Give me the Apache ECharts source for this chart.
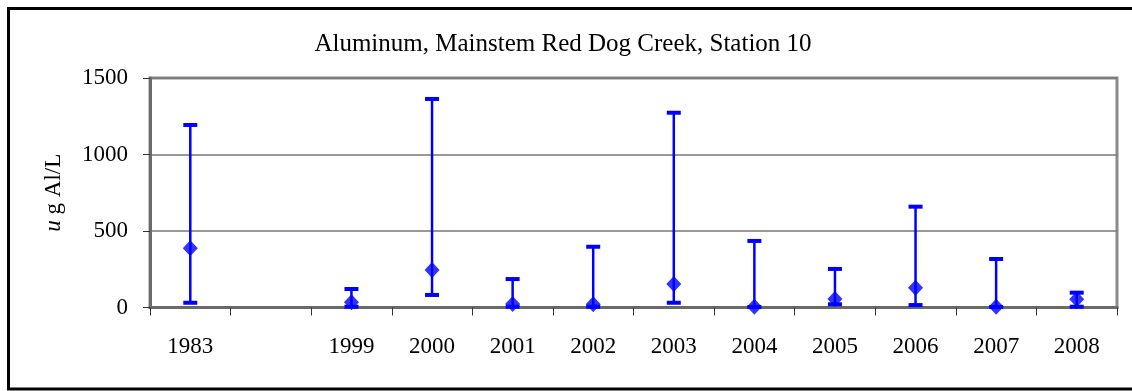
<!DOCTYPE html>
<html>
<head>
<meta charset="utf-8">
<script src="https://cdn.jsdelivr.net/npm/echarts@6/dist/echarts.min.js"></script>
<style>
  html, body { margin: 0; padding: 0; background: #ffffff; overflow: hidden; }
  #chart { width: 1132px; height: 391px; }
</style>
</head>
<body>
<div id="chart"></div>
<script>
// Sampling years (an empty slot separates 1983 from the later record)
var years = ['1983', '', '1999', '2000', '2001', '2002', '2003', '2004', '2005', '2006', '2007', '2008'];
// Mean aluminum concentration, ug Al/L
var means = [387, null, 34, 245, 23, 21, 154, 5, 56, 129, 5, 54];
// Minimum and maximum of each year's samples, ug Al/L
var lows  = [31, null, 5, 82, 5, 5, 31, 3, 21, 16, 3, 5];
var highs = [1193, null, 121, 1363, 186, 397, 1273, 435, 252, 659, 317, 97];
// Value axis ticks
var yTicks = [0, 500, 1000, 1500];

var chart = echarts.init(document.getElementById('chart'));

var rangeData = [];
var meanData = [];
for (var i = 0; i < years.length; i++) {
  if (means[i] == null) continue;
  rangeData.push([i, lows[i], highs[i]]);
  meanData.push([i, means[i]]);
}

var BLUE = '#0000ff';
var serif = '"Liberation Serif", "Times New Roman", serif';

// Vertical min-max bar with flat caps at both ends
function renderRange(params, api) {
  var x = api.value(0);
  var lo = api.coord([x, api.value(1)]);
  var hi = api.coord([x, api.value(2)]);
  var half = 7;
  var style = { stroke: BLUE, lineWidth: 2.5, fill: null };
  var capStyle = { stroke: BLUE, lineWidth: 4, fill: null };
  return {
    type: 'group',
    children: [
      { type: 'line', shape: { x1: lo[0], y1: lo[1], x2: hi[0], y2: hi[1] }, style: style },
      { type: 'line', shape: { x1: hi[0] - half, y1: hi[1], x2: hi[0] + half, y2: hi[1] }, style: capStyle },
      { type: 'line', shape: { x1: lo[0] - half, y1: lo[1], x2: lo[0] + half, y2: lo[1] }, style: capStyle }
    ]
  };
}

var frameStyle = { stroke: '#000', lineWidth: 3 };

chart.setOption({
  animation: false,
  backgroundColor: '#ffffff',
  title: {
    text: 'Aluminum, Mainstem Red Dog Creek, Station 10',
    left: 558,
    top: 27,
    textAlign: 'center',
    textStyle: { fontFamily: serif, fontSize: 25, fontWeight: 'normal', color: '#000' }
  },
  // Frame around the chart: top, left and bottom edges
  graphic: [
    { type: 'line', silent: true, shape: { x1: 7, y1: 8.5, x2: 1132, y2: 8.5 }, style: frameStyle },
    { type: 'line', silent: true, shape: { x1: 8.5, y1: 7, x2: 8.5, y2: 390 }, style: frameStyle },
    { type: 'line', silent: true, shape: { x1: 7, y1: 389, x2: 1132, y2: 389 }, style: frameStyle }
  ],
  grid: {
    left: 150, right: 15, top: 78, bottom: 83.5,
    show: true,
    borderColor: '#8a8a8a',
    borderWidth: 3,
    backgroundColor: '#ffffff'
  },
  xAxis: {
    type: 'category',
    data: years,
    boundaryGap: true,
    axisLine: { show: true, lineStyle: { color: '#6a6a6a', width: 3 } },
    axisTick: { show: true, length: 8, interval: 0, lineStyle: { color: '#333', width: 1 } },
    axisLabel: { interval: 0, margin: 28, fontFamily: serif, fontSize: 23, color: '#000' },
    splitLine: { show: false }
  },
  yAxis: {
    type: 'value',
    min: yTicks[0],
    max: yTicks[yTicks.length - 1],
    interval: yTicks[1] - yTicks[0],
    name: '{i|u} g Al/L',
    nameLocation: 'middle',
    nameRotate: 90,
    nameGap: 85,
    nameTextStyle: {
      fontFamily: serif, fontSize: 23, color: '#000',
      rich: { i: { fontFamily: serif, fontSize: 23, fontStyle: 'italic', color: '#000' } }
    },
    axisLine: { show: true, lineStyle: { color: '#6a6a6a', width: 3 } },
    axisTick: { show: true, length: 7, lineStyle: { color: '#333', width: 1 } },
    axisLabel: {
      margin: 22, fontFamily: serif, fontSize: 23, color: '#000',
      formatter: function (v) { return String(v); }
    },
    splitLine: { show: true, lineStyle: { color: '#777', width: 1.5 } }
  },
  series: [
    {
      type: 'custom',
      renderItem: renderRange,
      data: rangeData,
      encode: { x: 0, y: [1, 2] },
      z: 3
    },
    {
      type: 'scatter',
      data: meanData,
      symbol: 'diamond',
      symbolSize: [15, 16],
      itemStyle: { color: BLUE },
      z: 4
    }
  ]
});
</script>
</body>
</html>
